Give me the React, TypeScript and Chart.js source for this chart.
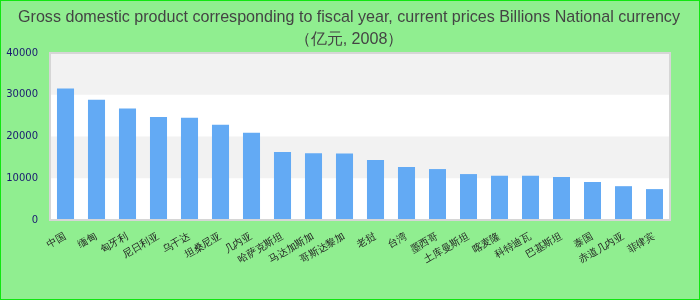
import React, { useEffect, useRef } from "react";
import { Chart, registerables } from "chart.js";

Chart.register(...registerables);

const categories = [
  "中国", "缅甸", "匈牙利", "尼日利亚", "乌干达", "坦桑尼亚", "几内亚",
  "哈萨克斯坦", "马达加斯加", "哥斯达黎加", "老挝", "台湾", "墨西哥",
  "土库曼斯坦", "喀麦隆", "科特迪瓦", "巴基斯坦", "泰国", "赤道几内亚", "菲律宾",
];
const gdpValues = [
  31500, 28800, 26700, 24700, 24500, 22800, 20900,
  16300, 16000, 15900, 14400, 12700, 12200,
  11000, 10600, 10600, 10300, 9100, 8100, 7400,
];
const titleLines = [
  "Gross domestic product corresponding to fiscal year, current prices Billions National currency",
  "（亿元, 2008）",
];
const yMin = 0;
const yMax = 40000;
const yStep = 10000;

const framePlugin = {
  id: "framePlugin",
  beforeDraw(chart: any) {
    const { ctx, width, height } = chart;
    ctx.save();
    ctx.fillStyle = "#90ee90";
    ctx.fillRect(0, 0, width, height);
    ctx.strokeStyle = "#11e611";
    ctx.lineWidth = 1;
    ctx.strokeRect(0.5, 0.5, width - 1, height - 1);
    ctx.restore();
  },
  beforeDatasetsDraw(chart: any) {
    const { ctx, chartArea } = chart;
    const y = chart.scales.y;
    ctx.save();
    ctx.fillStyle = "#ffffff";
    ctx.fillRect(chartArea.left, chartArea.top, chartArea.width, chartArea.height);
    const ticks = y.ticks;
    for (let i = 0; i < ticks.length - 1; i++) {
      if (i % 2 === 1) {
        const y1 = y.getPixelForValue(ticks[i].value);
        const y2 = y.getPixelForValue(ticks[i + 1].value);
        ctx.fillStyle = "#f2f2f2";
        ctx.fillRect(chartArea.left, Math.min(y1, y2), chartArea.width, Math.abs(y1 - y2));
      }
    }
    ctx.restore();
  },
  afterDatasetsDraw(chart: any) {
    const { ctx, chartArea } = chart;
    ctx.save();
    ctx.strokeStyle = "#d6d6d6";
    ctx.lineWidth = 2;
    ctx.strokeRect(chartArea.left, chartArea.top, chartArea.width, chartArea.height);
    ctx.restore();
  },
};

export default function App() {
  const ref = useRef<HTMLCanvasElement | null>(null);

  useEffect(() => {
    document.body.style.margin = "0";
    if (!ref.current) return;
    const chart = new Chart(ref.current, {
      type: "bar",
      data: {
        labels: categories,
        datasets: [
          {
            data: gdpValues,
            backgroundColor: "#63aaf4",
            borderWidth: 0,
            barPercentage: 0.55,
            categoryPercentage: 1,
          },
        ],
      },
      options: {
        animation: false,
        responsive: false,
        maintainAspectRatio: false,
        layout: { padding: { top: 1, right: 2, bottom: 0, left: 0 } },
        plugins: {
          legend: { display: false },
          tooltip: { enabled: false },
          title: {
            display: true,
            text: titleLines,
            color: "#444444",
            font: { family: "'Liberation Sans', Arial, sans-serif", size: 16.1, weight: "normal", lineHeight: "22px" },
            padding: { top: 6, bottom: 2 },
          },
        },
        scales: {
          x: {
            grid: { display: false, drawTicks: false },
            border: { display: false },
            ticks: {
              color: "#222222",
              font: { family: "'DejaVu Sans', sans-serif", size: 10 },
              minRotation: 30,
              maxRotation: 30,
              autoSkip: false,
              padding: 11,
            },
            afterFit(scale: any) {
              scale.height = 80;
            },
          },
          y: {
            min: yMin,
            max: yMax,
            grid: { display: false, drawTicks: false },
            border: { display: false },
            ticks: {
              stepSize: yStep,
              color: "#191970",
              font: { family: "'DejaVu Sans', sans-serif", size: 10 },
              padding: 12,
              callback: (v: any) => String(v),
            },
            afterFit(scale: any) {
              scale.width = 50;
            },
          },
          yRight: {
            position: "right",
            min: yMin,
            max: yMax,
            grid: { display: false, drawTicks: false },
            border: { display: false },
            ticks: { display: false },
            afterFit(scale: any) {
              scale.width = 28;
            },
          },
        },
      },
      plugins: [framePlugin],
    });
    return () => chart.destroy();
  }, []);

  return (
    <div style={{ width: 700, height: 300 }}>
      <canvas ref={ref} width={700} height={300} style={{ display: "block" }} />
    </div>
  );
}
